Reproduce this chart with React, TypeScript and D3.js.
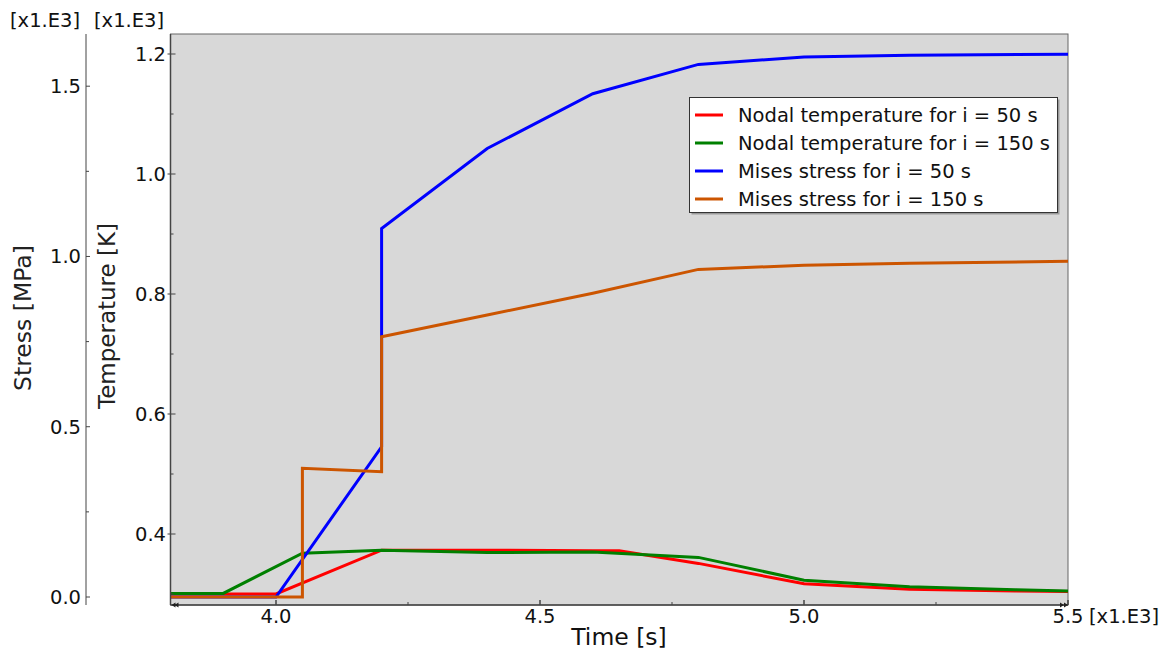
import React from "react";
import * as d3 from "d3";

// time in x1.E3 s, temperature in x1.E3 K, stress in x1.E3 MPa
const tempTime50 = [3.8, 4.0, 4.2, 4.4, 4.6, 4.65, 4.8, 5.0, 5.2, 5.4, 5.5];
const tempVal50 = [0.3, 0.3, 0.373, 0.373, 0.372, 0.372, 0.351, 0.317, 0.308, 0.305, 0.304];

const tempTime150 = [3.8, 3.9, 4.05, 4.2, 4.4, 4.6, 4.8, 5.0, 5.2, 5.4, 5.5];
const tempVal150 = [0.301, 0.301, 0.368, 0.373, 0.369, 0.37, 0.361, 0.323, 0.312, 0.307, 0.305];

const stressTime50 = [3.8, 4.0, 4.2, 4.2, 4.4, 4.6, 4.8, 5.0, 5.2, 5.5];
const stressVal50 = [0, 0, 0.441, 1.082, 1.317, 1.478, 1.564, 1.586, 1.591, 1.594];

const stressTime150 = [3.8, 4.05, 4.05, 4.2, 4.2, 4.4, 4.6, 4.8, 5.0, 5.2, 5.5];
const stressVal150 = [0, 0, 0.378, 0.368, 0.764, 0.828, 0.892, 0.962, 0.974, 0.98, 0.986];

const legendLabels = [
  "Nodal temperature for i = 50 s",
  "Nodal temperature for i = 150 s",
  "Mises stress for i = 50 s",
  "Mises stress for i = 150 s"
];
const seriesColors = ["#ff0000", "#008000", "#0000ff", "#cc5500"];

const xTicks = [4.0, 4.5, 5.0, 5.5];
const xMinorTicks = [4.25, 4.75, 5.25];
const tempTicks = [0.4, 0.6, 0.8, 1.0, 1.2];
const tempMinorTicks = [0.3, 0.5, 0.7, 0.9, 1.1];
const stressTicks = [0.0, 0.5, 1.0, 1.5];
const stressMinorTicks = [0.25, 0.75, 1.25];

const W = 1172;
const H = 656;
const plot = { left: 170.5, right: 1068, top: 34, bottom: 605 };
const stressAxisX = 86;
const font = "'DejaVu Sans', Verdana, sans-serif";
const axisColor = "#444";

export default function App() {
  const x = d3.scaleLinear().domain([4.0, 5.5]).range([276, 1068]);
  const yTemp = d3.scaleLinear().domain([0.4, 1.2]).range([534, 54]);
  const yStress = d3.scaleLinear().domain([0, 1.5]).range([597, 86.2]);

  const tempLine = d3
    .line<[number, number]>()
    .x(d => x(d[0]))
    .y(d => yTemp(d[1]));
  const stressLine = d3
    .line<[number, number]>()
    .x(d => x(d[0]))
    .y(d => yStress(d[1]));

  const zip = (a: number[], b: number[]) => a.map((v, i) => [v, b[i]] as [number, number]);

  const paths = [
    tempLine(zip(tempTime50, tempVal50)),
    tempLine(zip(tempTime150, tempVal150)),
    stressLine(zip(stressTime50, stressVal50)),
    stressLine(zip(stressTime150, stressVal150))
  ];

  const legend = { x: 689.5, y: 97.5, w: 368, h: 115 };

  return (
    <svg
      width={W}
      height={H}
      style={{ position: "absolute", left: 0, top: 0, background: "#fff" }}
      fontFamily={font}
    >
      <defs>
        <clipPath id="plotClip">
          <rect
            x={plot.left}
            y={plot.top}
            width={plot.right - plot.left}
            height={plot.bottom - plot.top}
          />
        </clipPath>
      </defs>

      {/* plot background */}
      <rect
        x={plot.left}
        y={plot.top}
        width={plot.right - plot.left}
        height={plot.bottom - plot.top}
        fill="#d8d8d8"
        stroke="#666"
        strokeWidth={1}
      />

      {/* series */}
      <g clipPath="url(#plotClip)" fill="none" strokeWidth={3} strokeLinejoin="miter">
        {paths.map((p, i) => (
          <path key={i} d={p || ""} stroke={seriesColors[i]} />
        ))}
      </g>

      {/* x axis */}
      <line x1={plot.left} x2={plot.right} y1={plot.bottom} y2={plot.bottom} stroke={axisColor} strokeWidth={1.5} />
      <line x1={plot.left} x2={plot.left} y1={plot.top} y2={plot.bottom} stroke={axisColor} strokeWidth={1.5} />
      {xTicks.map(t => (
        <g key={t}>
          <line x1={x(t)} x2={x(t)} y1={plot.bottom - 5} y2={plot.bottom} stroke={axisColor} strokeWidth={1.5} />
          <text x={x(t)} y={623} textAnchor="middle" fontSize={19.5} fill="#111">
            {d3.format(".1f")(t)}
          </text>
        </g>
      ))}
      {xMinorTicks.map(t => (
        <line key={t} x1={x(t)} x2={x(t)} y1={plot.bottom - 3} y2={plot.bottom} stroke={axisColor} strokeWidth={1} />
      ))}
      {/* axis end arrows */}
      <path
        d={`M${plot.left + 1},${plot.bottom} l4,-2.5 v5 z M${plot.left + 4},${plot.bottom} l4,-2.5 v5 z`}
        fill="#222"
      />
      <path
        d={`M${plot.right},${plot.bottom} l-4,-2.5 v5 z M${plot.right - 4},${plot.bottom} l-4,-2.5 v5 z`}
        fill="#222"
      />
      <text x={1089} y={623} fontSize={19.5} fill="#111">[x1.E3]</text>
      <text x={619} y={645} textAnchor="middle" fontSize={23.5} fill="#111">
        Time [s]
      </text>

      {/* temperature axis */}
      {tempTicks.map(t => (
        <g key={t}>
          <line x1={plot.left - 3} x2={plot.left + 5} y1={yTemp(t)} y2={yTemp(t)} stroke={axisColor} strokeWidth={1} />
          <text x={166} y={yTemp(t)} dy="0.36em" textAnchor="end" fontSize={19.5} fill="#111">
            {d3.format(".1f")(t)}
          </text>
        </g>
      ))}
      {tempMinorTicks.map(t => (
        <line key={t} x1={plot.left} x2={plot.left + 3} y1={yTemp(t)} y2={yTemp(t)} stroke={axisColor} strokeWidth={1} />
      ))}
      <text
        transform={`translate(107,316) rotate(-90)`}
        textAnchor="middle"
        dy="0.36em"
        fontSize={23}
        fill="#222"
      >
        Temperature [K]
      </text>
      <text x={94} y={27} fontSize={19.5} fill="#111">[x1.E3]</text>

      {/* stress axis */}
      <line x1={stressAxisX} x2={stressAxisX} y1={plot.top} y2={plot.bottom} stroke={axisColor} strokeWidth={1} />
      {stressTicks.map(t => (
        <g key={t}>
          <line x1={stressAxisX} x2={stressAxisX + 4} y1={yStress(t)} y2={yStress(t)} stroke={axisColor} strokeWidth={1} />
          <text x={81} y={yStress(t)} dy="0.36em" textAnchor="end" fontSize={19.5} fill="#111">
            {d3.format(".1f")(t)}
          </text>
        </g>
      ))}
      {stressMinorTicks.map(t => (
        <line key={t} x1={stressAxisX} x2={stressAxisX + 3} y1={yStress(t)} y2={yStress(t)} stroke={axisColor} strokeWidth={1} />
      ))}
      <text
        transform={`translate(23,318) rotate(-90)`}
        textAnchor="middle"
        dy="0.36em"
        fontSize={23.5}
        fill="#222"
      >
        Stress [MPa]
      </text>
      <text x={10} y={27} fontSize={19.5} fill="#111">[x1.E3]</text>

      {/* legend */}
      <rect x={legend.x + 2} y={legend.y + 2} width={legend.w} height={legend.h} fill="#999" />
      <rect x={legend.x} y={legend.y} width={legend.w} height={legend.h} fill="#fff" stroke="#333" strokeWidth={1} />
      {legendLabels.map((lab, i) => {
        const cy = 115 + i * 28;
        return (
          <g key={lab}>
            <line x1={695} x2={723} y1={cy} y2={cy} stroke={seriesColors[i]} strokeWidth={3} />
            <text x={738} y={cy} dy="0.36em" fontSize={19.5} fill="#111">
              {lab}
            </text>
          </g>
        );
      })}
    </svg>
  );
}
